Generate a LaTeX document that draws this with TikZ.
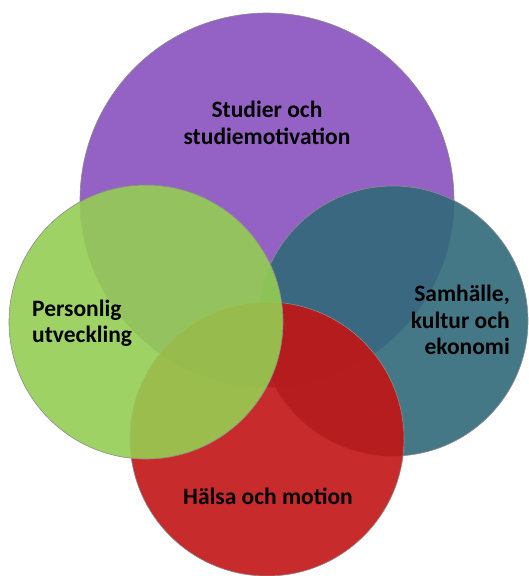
\documentclass[tikz,border=0pt]{standalone}
\usepackage{fontspec}
\setmainfont{Carlito}
\usepackage{xcolor}
\usetikzlibrary{shapes.geometric, positioning}
\definecolor{lila}{HTML}{9462C4}
\definecolor{gron}{HTML}{95CD53}
\definecolor{blagron}{HTML}{31697A}
\definecolor{rod}{HTML}{C21414}
\tikzstyle{bubble} = [circle, inner sep=0pt, draw=black!45, line width=0.6pt, fill opacity=0.9]
\tikzstyle{rubrik} = [font=\fontsize{23.5}{26.5}\selectfont\bfseries, text=black, inner sep=0pt]

\begin{document}
\begin{tikzpicture}[x=1pt, y=-1pt]
    \useasboundingbox (0,0) rectangle (529,576);
    \node (studier) [bubble, fill=lila, fill opacity=1, minimum size=374pt] at (267,200) {};
    \node (samhalle) [bubble, fill=blagron, minimum size=270pt] at (393,321) {};
    \node (halsa) [bubble, fill=rod, minimum size=274pt] at (267,439) {};
    \node (personlig) [bubble, fill=gron, minimum size=274pt] at (146,322) {};

    \node (t1) [rubrik, align=center] at (267,123) {Studier och\\studiemotivation};
    \node (t2) [rubrik, align=left, anchor=west] at (32,323) {Personlig\\utveckling};
    \node (t3) [rubrik, align=right, anchor=east] at (510,320) {Samhälle,\\kultur och\\ekonomi};
    \node (t4) [rubrik] at (268,496) {Hälsa och motion};
\end{tikzpicture}
\end{document}
